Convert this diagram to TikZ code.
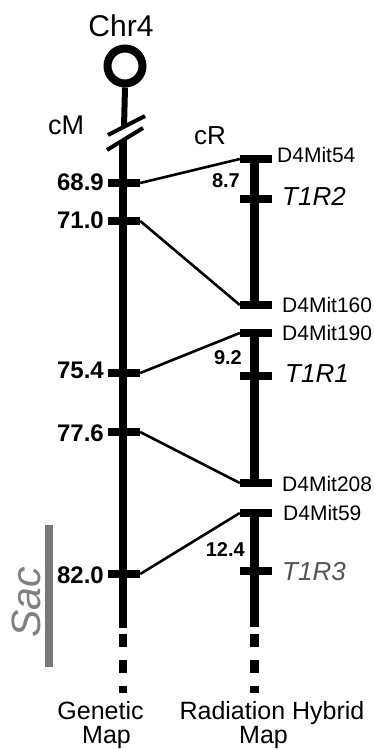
\documentclass[tikz,border=0pt]{standalone}
\usepackage{fontspec}
\setmainfont{Liberation Sans}
\definecolor{sacgray}{HTML}{808080}
\definecolor{bargray}{HTML}{777777}
\definecolor{genegray}{HTML}{555555}
\begin{document}
\begin{tikzpicture}[x=1pt,y=-1pt,
  chrom/.style={line width=8pt},
  rhline/.style={line width=9pt},
  tickbar/.style={fill=black, draw=none, inner sep=0pt, minimum width=32pt, minimum height=8pt},
  link/.style={line width=2.6pt},
  cmnum/.style={font=\fontsize{24}{28}\selectfont\bfseries, anchor=base east, inner sep=0pt},
  crnum/.style={font=\fontsize{20}{24}\selectfont\bfseries, anchor=base east, inner sep=0pt},
  marker/.style={font=\fontsize{21}{25}\selectfont, anchor=base west, inner sep=0pt},
  gene/.style={font=\fontsize{26}{30}\selectfont\itshape, anchor=base west, inner sep=0pt},
  unitlab/.style={font=\fontsize{27}{31}\selectfont, anchor=base west, inner sep=0pt},
  maplab/.style={font=\fontsize{25}{29}\selectfont, anchor=base, inner sep=0pt},
  ]
\useasboundingbox (0,0) rectangle (374,749);

% title and centromere
\node[anchor=base, font=\fontsize{30}{34}\selectfont, inner sep=0pt] (chr) at (121,37) {Chr4};
\node[circle, draw, line width=8pt, minimum size=35pt, inner sep=0pt] (cen) at (125,66) {};
\coordinate (stemend) at (124,127);
\draw[line width=6pt] (cen.south) -- (stemend);
% break slashes
\coordinate (s1a) at (108,135); \coordinate (s1b) at (145,116);
\coordinate (s2a) at (107,150); \coordinate (s2b) at (143,128);
\draw[line width=4pt] (s1a) -- (s1b);
\draw[line width=4pt] (s2a) -- (s2b);

% genetic map line
\coordinate (gtop) at (123,140);
\coordinate (gbot) at (123,628);
\draw[chrom] (gtop) -- (gbot);
\draw[chrom] (123,634) -- (123,647);
\draw[chrom] (123,660) -- (123,673);
\draw[chrom] (123,686) -- (123,693);

% radiation hybrid map segments
\draw[rhline] (254.5,159) -- (254.5,305);
\draw[rhline] (254.5,333) -- (254.5,483);
\draw[rhline] (254.5,513) -- (254.5,627);
\draw[rhline] (254.5,634) -- (254.5,647);
\draw[rhline] (254.5,660) -- (254.5,673);
\draw[rhline] (254.5,686) -- (254.5,693);

% left ticks
\node[tickbar] (l689) at (124,183) {};
\node[tickbar] (l710) at (124,221) {};
\node[tickbar] (l754) at (124,373) {};
\node[tickbar] (l776) at (124,432) {};
\node[tickbar] (l820) at (124,574) {};

% right ticks
\node[tickbar] (r54) at (256,159) {};
\node[tickbar] (rt2) at (256,199) {};
\node[tickbar] (r160) at (256,305) {};
\node[tickbar] (r190) at (256,333) {};
\node[tickbar] (rt1) at (256,376) {};
\node[tickbar] (r208) at (256,483) {};
\node[tickbar] (r59) at (256,513) {};
\node[tickbar] (rt3) at (256,571) {};

% connectors
\draw[link] (l689.east) -- (r54.west);
\draw[link] (l710.east) -- (r160.west);
\draw[link] (l754.east) -- (r190.west);
\draw[link] (l776.east) -- (r208.west);
\draw[link] (l820.east) -- (r59.west);

% cM labels
\node[cmnum] (n689) at (104,190) {68.9};
\node[cmnum] (n710) at (104,228) {71.0};
\node[cmnum] (n754) at (104,378) {75.4};
\node[cmnum] (n776) at (104,441) {77.6};
\node[cmnum] (n820) at (104,583) {82.0};

% cR labels
\node[crnum] (c87) at (240,187) {8.7};
\node[crnum] (c92) at (242,364) {9.2};
\node[crnum] (c124) at (245,556) {12.4};

% markers
\node[marker] (m54) at (277,162) {D4Mit54};
\node[marker] (m160) at (282,312) {D4Mit160};
\node[marker] (m190) at (282,340) {D4Mit190};
\node[marker] (m208) at (282,491) {D4Mit208};
\node[marker] (m59) at (283,520) {D4Mit59};

% genes
\node[gene] (g2) at (282,205) {T1R2};
\node[gene] (g1) at (285,382) {T1R1};
\node[gene, text=genegray] (g3) at (282,580) {T1R3};

% units
\node[unitlab] (cm) at (48,135) {cM};
\node[unitlab, font=\fontsize{26}{30}\selectfont] (cr) at (194,144) {cR};

% Sac region
\fill[bargray] (45,525) rectangle (53,667);
\node[rotate=90, text=sacgray, font=\fontsize{41}{45}\selectfont\itshape, inner sep=0pt] (sac) at (26.5,602.5) {Sac};

% bottom labels
\node[maplab] (gen1) at (100.5,719) {Genetic};
\node[maplab] (gen2) at (106.5,743) {Map};
\node[maplab] (rh1) at (272,719) {Radiation Hybrid};
\node[maplab] (rh2) at (263.5,743) {Map};
\end{tikzpicture}
\end{document}
